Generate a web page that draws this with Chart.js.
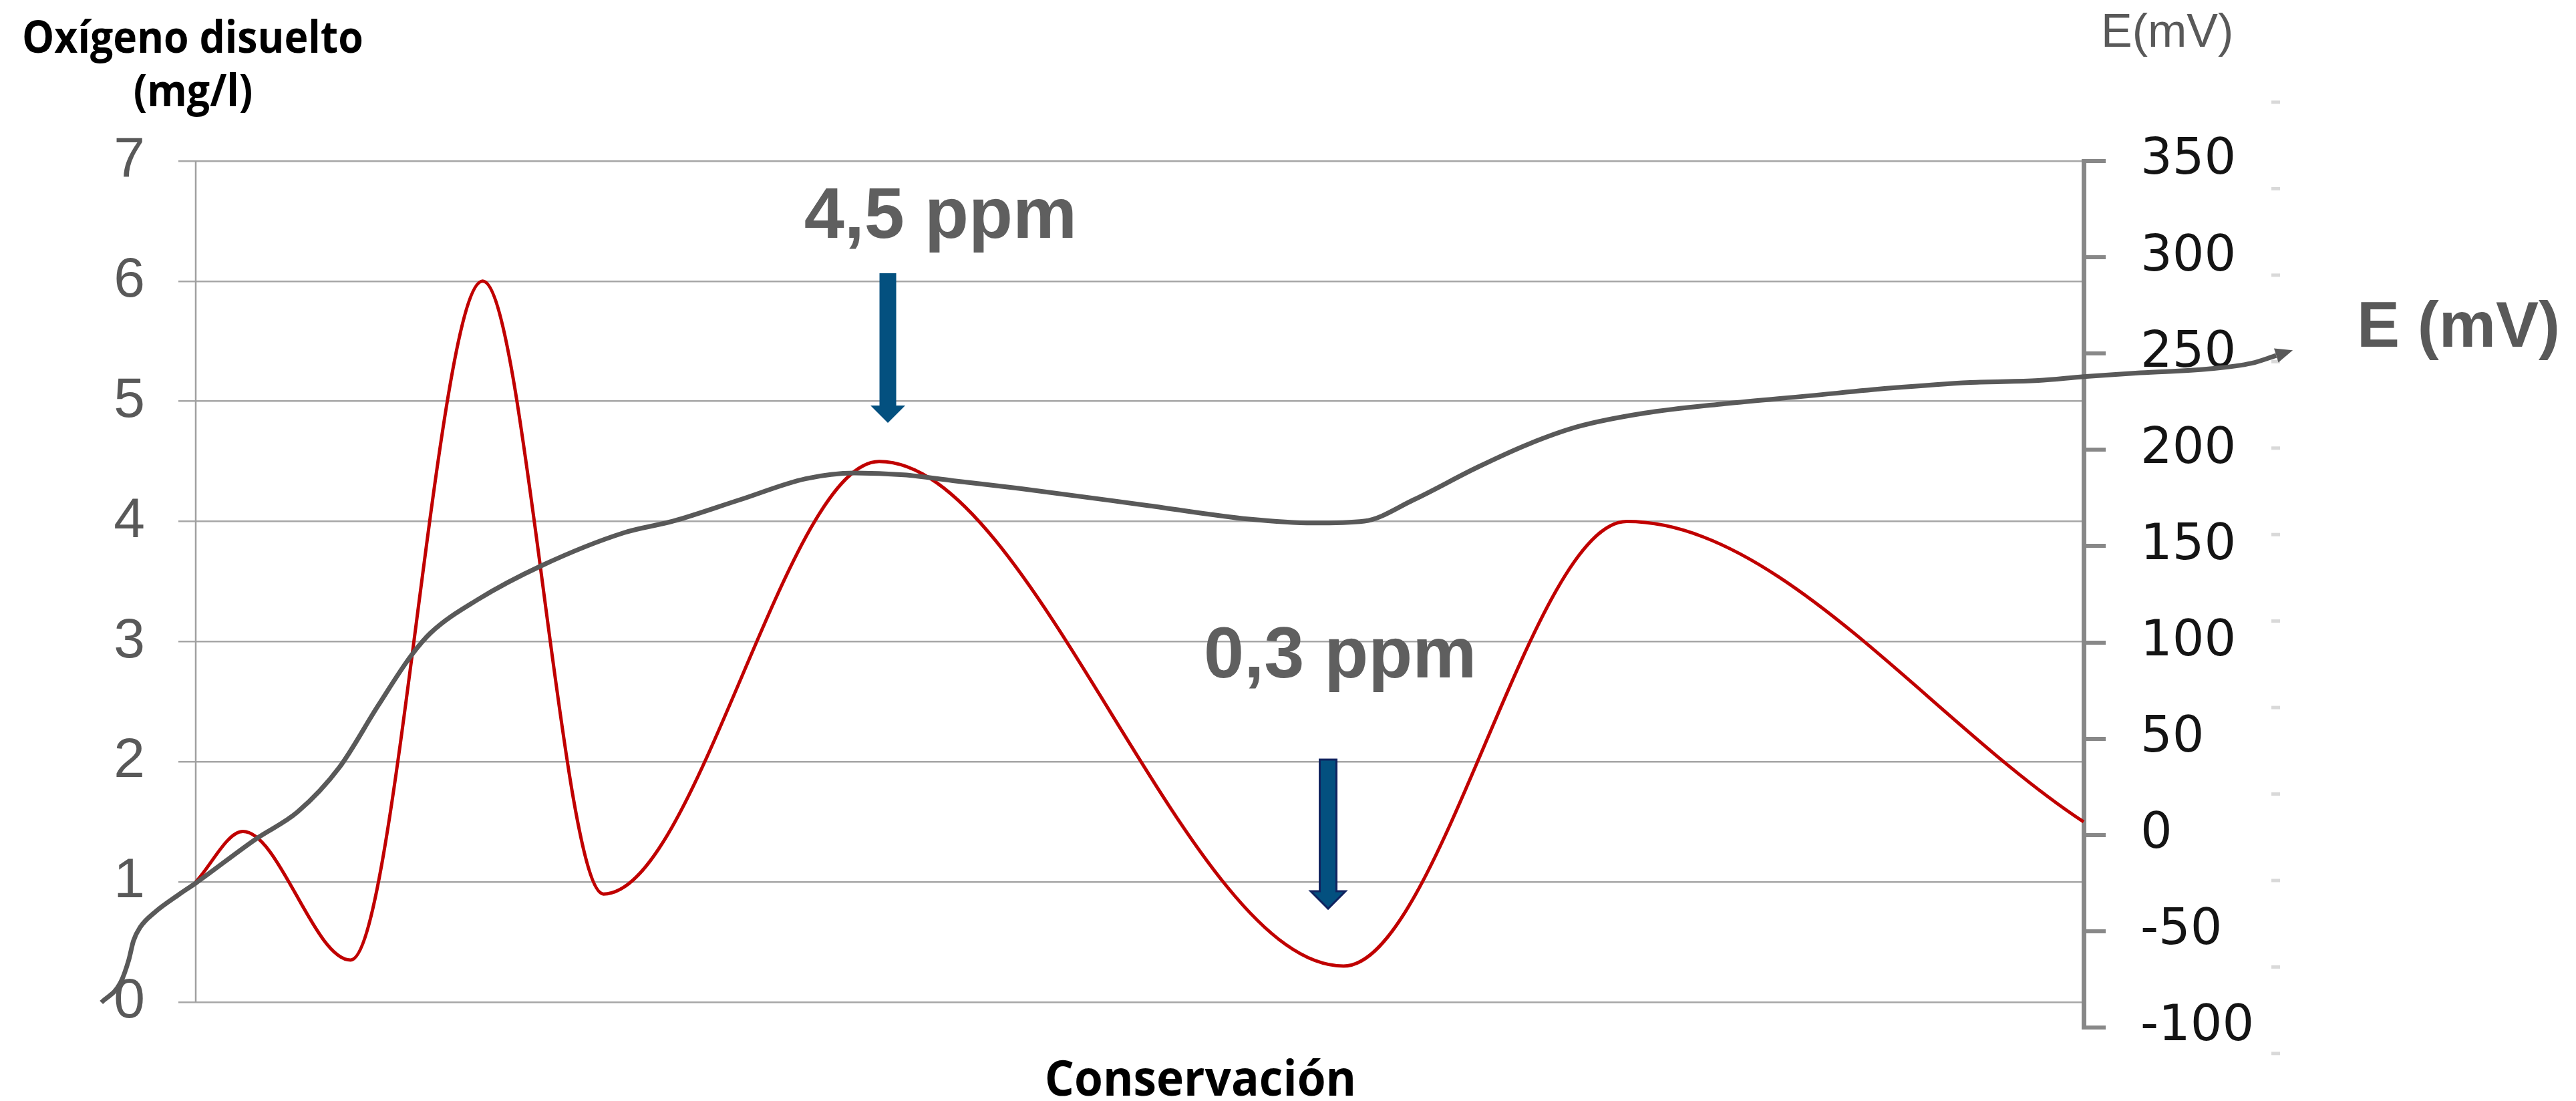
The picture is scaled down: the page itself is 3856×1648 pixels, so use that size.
<!DOCTYPE html>
<html lang="es">
<head>
<meta charset="utf-8">
<title>Oxígeno disuelto y potencial redox durante la conservación</title>
<script src="https://cdn.jsdelivr.net/npm/chart.js@4.4.1/dist/chart.umd.min.js"></script>
<style>
  html, body { margin: 0; padding: 0; background: #ffffff; }
  #wrap { width: 3856px; height: 1648px; position: relative; }
</style>
</head>
<body>
<div id="wrap"><canvas id="chart" width="3856" height="1648"></canvas></div>
<script>
// Position along the conservation period (0 = start, 100 = end)
const oxygenX   = [0, 2.5, 8.2, 15.2, 21.6, 36.2, 60.8, 75.8, 100];
// Dissolved oxygen, mg/l
const oxygenMgL = [1.0, 1.42, 0.35, 6.0, 0.9, 4.5, 0.3, 4.0, 1.5];

// Redox potential trace (the probe trace starts a little before and ends after the period)
const potentialX  = [-5.0, -4.0, -3.55, -3.3, -2.95, -2.15, -0.9, 0, 3.2, 5.4, 7.6, 9.65, 11.4, 12.45, 14.9,
                     18.35, 22.7, 25.3, 28.8, 32.3, 34.9, 37.5, 40.1, 43.6, 50.5, 55.8, 59.2, 61.9, 64.5,
                     67.9, 70.6, 73.2, 76.7, 81.0, 85.4, 89.7, 94.0, 97.6, 100, 103.0, 106.6, 108.9, 110.2];
// Redox potential, mV
const potentialMv = [-87, -77, -65, -55, -48, -40, -31, -25, -2, 12, 35, 67, 93, 105, 122,
                     140, 157, 163, 174, 185, 188, 187, 184, 180, 171, 164, 162, 163, 174,
                     191, 203, 212, 219, 224, 228, 232, 235, 236, 238, 240, 242, 245, 249];

// Axis ticks
const oxygenTicks    = [0, 1, 2, 3, 4, 5, 6, 7];
const potentialTicks = [-100, -50, 0, 50, 100, 150, 200, 250, 300, 350];
// Minor marks of the auxiliary scale
const auxTicks = [0, 1, 2, 3, 4, 5, 6, 7, 8, 9, 10, 11];

// Callouts pointing at the oxygen peak and the oxygen minimum
const peakIndex = oxygenMgL.indexOf(Math.max(...oxygenMgL.slice(4)));
const lowIndex  = oxygenMgL.indexOf(Math.min(...oxygenMgL));
const fmt = v => v.toFixed(1).replace('.', ',') + ' ppm';
const callouts = [
  { text: fmt(oxygenMgL[peakIndex]), textX: 39.45, textY: 6.36, arrowX: 36.66, arrowTop: 6.066, arrowTip: 4.82, outline: null },
  { text: fmt(oxygenMgL[lowIndex]),  textX: 60.62, textY: 2.70, arrowX: 59.98, arrowTop: 2.018, arrowTip: 0.778, outline: '#10235f' }
];

function blockArrow(ctx, cx, yTop, yTip, shaftW, headW, headL, fill, outline) {
  const yBase = yTip - headL;
  ctx.beginPath();
  ctx.moveTo(cx - shaftW / 2, yTop);
  ctx.lineTo(cx + shaftW / 2, yTop);
  ctx.lineTo(cx + shaftW / 2, yBase);
  ctx.lineTo(cx + headW / 2, yBase);
  ctx.lineTo(cx, yTip);
  ctx.lineTo(cx - headW / 2, yBase);
  ctx.lineTo(cx - shaftW / 2, yBase);
  ctx.closePath();
  ctx.fillStyle = fill;
  ctx.fill();
  if (outline) {
    ctx.strokeStyle = outline;
    ctx.lineWidth = 3;
    ctx.lineJoin = 'miter';
    ctx.stroke();
  }
}

function condensedText(ctx, text, x, y, font, color, align, squeeze) {
  ctx.save();
  ctx.font = font;
  ctx.fillStyle = color;
  ctx.textAlign = align;
  ctx.textBaseline = 'alphabetic';
  ctx.translate(x, y);
  ctx.scale(squeeze, 1);
  ctx.fillText(text, 0, 0);
  ctx.restore();
}

const decorations = {
  id: 'decorations',
  beforeDatasetsDraw(chart) {
    const { ctx, chartArea, scales } = chart;
    const y = scales.y;
    // left value axis, from 0 up to the top tick
    ctx.save();
    ctx.strokeStyle = '#a0a0a0';
    ctx.lineWidth = 2.5;
    ctx.beginPath();
    ctx.moveTo(chartArea.left, y.getPixelForValue(oxygenTicks[oxygenTicks.length - 1]));
    ctx.lineTo(chartArea.left, y.getPixelForValue(oxygenTicks[0]));
    ctx.stroke();
    // auxiliary scale marks to the right of the mV labels
    const aux = scales.y3;
    const ax = scales.y2.right;
    ctx.fillStyle = '#d9d9d9';
    auxTicks.forEach(v => {
      const py = aux.getPixelForValue(v);
      ctx.fillRect(ax, py - 2.5, 13, 5);
    });
    ctx.restore();
  },
  afterDatasetsDraw(chart) {
    const { ctx, scales } = chart;
    const x = scales.x, y = scales.y;
    ctx.save();
    // arrow head at the end of the potential trace
    const pts = chart.getDatasetMeta(1).data;
    const a = pts[pts.length - 2], b = pts[pts.length - 1];
    const dx = b.x - a.x, dy = b.y - a.y, len = Math.hypot(dx, dy);
    const ux = dx / len, uy = dy / len;
    ctx.fillStyle = '#595959';
    ctx.beginPath();
    ctx.moveTo(b.x + ux * 26, b.y + uy * 26);
    ctx.lineTo(b.x - uy * 11, b.y + ux * 11);
    ctx.lineTo(b.x + uy * 11, b.y - ux * 11);
    ctx.closePath();
    ctx.fill();
    // callouts
    callouts.forEach(c => {
      ctx.font = 'bold 108px "Liberation Sans", Arial, sans-serif';
      ctx.fillStyle = '#5f5f5f';
      ctx.textAlign = 'center';
      ctx.textBaseline = 'alphabetic';
      ctx.fillText(c.text, x.getPixelForValue(c.textX), y.getPixelForValue(c.textY));
      blockArrow(ctx, x.getPixelForValue(c.arrowX), y.getPixelForValue(c.arrowTop), y.getPixelForValue(c.arrowTip),
                 25, 52, 26, '#03507f', c.outline);
    });
    ctx.restore();
  },
  afterDraw(chart) {
    const { ctx, chartArea } = chart;
    const titleFont = s => `bold ${s}px "Open Sans", "Noto Sans", sans-serif`;
    condensedText(ctx, 'Oxígeno disuelto', 33, 79, titleFont(66), '#000000', 'left', 0.92);
    condensedText(ctx, '(mg/l)', 289, 159, titleFont(66), '#000000', 'center', 0.92);
    condensedText(ctx, 'Conservación', 1797, 1640, titleFont(73), '#000000', 'center', 0.95);
    ctx.save();
    ctx.fillStyle = '#595959';
    ctx.textAlign = 'left';
    ctx.textBaseline = 'alphabetic';
    ctx.font = '70px "Liberation Sans", Arial, sans-serif';
    ctx.fillText('E(mV)', chartArea.right + 26, 70);
    ctx.font = 'bold 96px "Liberation Sans", Arial, sans-serif';
    ctx.fillText('E (mV)', 3528, 519);
    ctx.restore();
  }
};

new Chart(document.getElementById('chart'), {
  type: 'line',
  data: {
    datasets: [
      {
        label: 'Oxígeno disuelto (mg/l)',
        data: oxygenX.map((v, i) => ({ x: v, y: oxygenMgL[i] })),
        yAxisID: 'y',
        borderColor: '#c00000',
        borderWidth: 5,
        pointRadius: 0,
        cubicInterpolationMode: 'monotone',
        capBezierPoints: false,
        clip: false,
        order: 2
      },
      {
        label: 'E (mV)',
        data: potentialX.map((v, i) => ({ x: v, y: potentialMv[i] })),
        yAxisID: 'y2',
        borderColor: '#595959',
        borderWidth: 7,
        borderCapStyle: 'butt',
        pointRadius: 0,
        cubicInterpolationMode: 'monotone',
        capBezierPoints: false,
        clip: false,
        order: 1
      }
    ]
  },
  options: {
    responsive: false,
    animation: false,
    devicePixelRatio: 1,
    layout: { padding: { left: 0, top: 241, right: 456, bottom: 110 } },
    plugins: { legend: { display: false }, tooltip: { enabled: false }, title: { display: false } },
    scales: {
      x: {
        type: 'linear',
        display: false,
        bounds: 'data',
        afterDataLimits(s) { s.min = 0; s.max = 100; }
      },
      y: {
        type: 'linear',
        position: 'left',
        min: -0.2113,
        max: 7,
        afterBuildTicks(s) { s.ticks = oxygenTicks.map(v => ({ value: v })); },
        afterFit(s) { s.width = 293; },
        border: { display: false },
        grid: { color: '#a6a6a6', lineWidth: 2.5, tickLength: 26, drawTicks: true },
        ticks: {
          color: '#595959',
          padding: 50,
          font: { family: '"Liberation Sans", Arial, sans-serif', size: 84 },
          callback: v => String(v)
        }
      },
      y2: {
        type: 'linear',
        position: 'right',
        min: -100,
        max: 350,
        afterBuildTicks(s) { s.ticks = potentialTicks.map(v => ({ value: v })); },
        afterFit(s) { s.width = 281; },
        border: { display: true, color: '#878787', width: 7 },
        grid: { drawOnChartArea: false, color: '#888888', lineWidth: 6, tickLength: 33 },
        ticks: {
          color: '#141414',
          padding: 52,
          font: { family: '"DejaVu Sans", Verdana, sans-serif', size: 75 },
          callback: v => String(v)
        }
      },
      y3: {
        type: 'linear',
        display: false,
        min: 0.3,
        max: 10.32
      }
    }
  },
  plugins: [decorations]
});
</script>
</body>
</html>
